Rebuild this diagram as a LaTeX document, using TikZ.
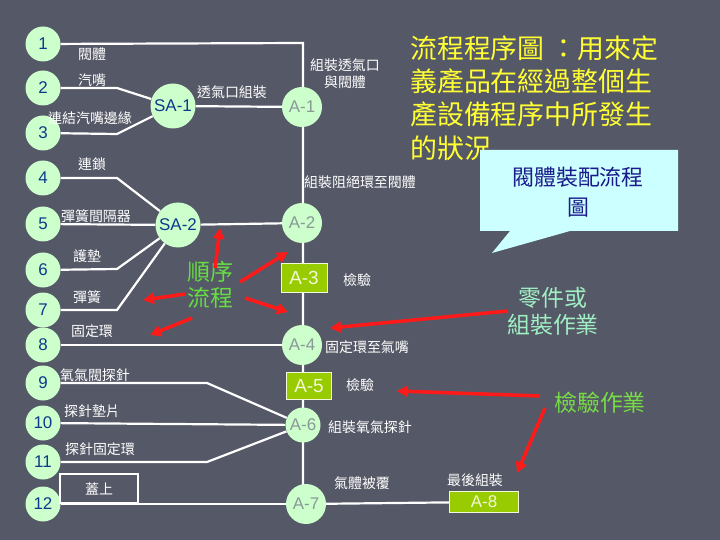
\documentclass[tikz,border=0pt]{standalone}
\usepackage{fontspec}
\setmainfont{Liberation Sans}
\newfontfamily\cjk{Noto Sans CJK TC}
\usetikzlibrary{arrows.meta,backgrounds}
\definecolor{bgc}{HTML}{555866}
\definecolor{cfill}{HTML}{CCFFCC}
\definecolor{numc}{HTML}{0C3A8A}
\definecolor{agray}{HTML}{8A9898}
\definecolor{boxg}{HTML}{99CC00}
\definecolor{boxt}{HTML}{F2F8D8}
\definecolor{ttl}{HTML}{FFFF33}
\definecolor{callc}{HTML}{CCFFFF}
\definecolor{callt}{HTML}{1A1A8A}
\definecolor{seqg}{HTML}{66DD44}
\definecolor{mint}{HTML}{A0F0C4}
\definecolor{insg}{HTML}{77DD44}
\definecolor{arrred}{HTML}{FF1A1A}
\tikzset{
  numc/.style={circle,fill=cfill,minimum size=35bp,inner sep=0pt,text=numc,font=\fontsize{17}{17}\selectfont},
  sac/.style={circle,fill=cfill,minimum size=45bp,inner sep=0pt,text=numc,font=\fontsize{17}{17}\selectfont},
  acirc/.style={circle,fill=cfill,minimum size=40bp,inner sep=0pt,text=agray,font=\fontsize{17}{17}\selectfont},
  abox/.style={rectangle,fill=boxg,draw=boxt,line width=0.6bp,minimum width=46bp,minimum height=29bp,inner sep=0pt,text=boxt,font=\fontsize{19}{19}\selectfont},
  lbl/.style={text=white,font=\cjk\fontsize{14}{17}\selectfont,inner sep=0pt},
  wline/.style={draw=white,line width=2.2bp},
  redarr/.style={draw=arrred,line width=3.5bp,-{Triangle[length=11bp,width=11bp]}},
  big/.style={font=\cjk\fontsize{23}{27}\selectfont,inner sep=0pt,align=center}
}
\begin{document}
\begin{tikzpicture}[x=1bp,y=-1bp]
\begin{pgfonlayer}{background}
\fill[bgc] (0,0) rectangle (720,540);
\end{pgfonlayer}
\useasboundingbox (0,0) rectangle (720,540);
% numbered circles
\node[numc] (n1) at (43,44) {1};
\node[numc] (n2) at (43,88) {2};
\node[numc] (n3) at (43,133) {3};
\node[numc] (n4) at (43,178) {4};
\node[numc] (n5) at (43,224) {5};
\node[numc] (n6) at (43,270) {6};
\node[numc] (n7) at (43,310) {7};
\node[numc] (n8) at (43,345) {8};
\node[numc] (n9) at (43,383) {9};
\node[numc] (n10) at (43,423) {10};
\node[numc] (n11) at (43,462) {11};
\node[numc] (n12) at (43,504) {12};
% sub-assemblies
\node[sac] (sa1) at (173,106) {SA-1};
\node[sac] (sa2) at (178,225) {SA-2};
% A column
\node[acirc] (a1) at (302,107) {A-1};
\node[acirc] (a2) at (302,223) {A-2};
\node[abox] (a3) at (304,278) {A-3};
\node[acirc] (a4) at (302,345) {A-4};
\node[abox,minimum width=45bp,minimum height=27bp] (a5) at (309,386) {A-5};
\node[acirc,minimum size=35bp] (a6) at (303,425) {A-6};
\node[acirc] (a7) at (306,504) {A-7};
\node[abox,minimum width=69bp,minimum height=21bp,font=\fontsize{17}{17}\selectfont] (a8) at (484,502) {A-8};
% bend coordinates
\coordinate (top) at (303,43);
\coordinate (vbot) at (303,490);
\coordinate (b2) at (117,88);
\coordinate (b3) at (117,134);
\coordinate (b4) at (117,178);
\coordinate (b6) at (117,269);
\coordinate (b7) at (117,310);
\coordinate (b9) at (207,383);
\coordinate (b11) at (207,462);
\begin{pgfonlayer}{background}
\draw[wline] (n1) -- (top) -- (vbot);
\draw[wline] (n2) -- (b2) -- (sa1);
\draw[wline] (n3) -- (b3) -- (sa1);
\draw[wline] (sa1) -- (a1);
\draw[wline] (n4) -- (b4) -- (sa2);
\draw[wline] (n5) -- (sa2);
\draw[wline] (n6) -- (b6) -- (sa2);
\draw[wline] (n7) -- (b7) -- (sa2);
\draw[wline] (sa2) -- (a2);
\draw[wline] (n8) -- (a4);
\draw[wline] (n9) -- (b9) -- (a6);
\draw[wline] (n10) -- (a6);
\draw[wline] (n11) -- (b11) -- (a6);
\draw[wline] (n12) -- (a7);
\draw[wline] (a7) -- (a8);
\end{pgfonlayer}
% labels
\node[lbl] (l1) at (92,54) {閥體};
\node[lbl] (l2) at (92,80) {汽嘴};
\node[lbl] (l3) at (90,118) {連結汽嘴邊緣};
\node[lbl] (lsa1) at (232,92) {透氣口組裝};
\node[lbl] (l4) at (92,164) {連鎖};
\node[lbl] (l5) at (96,216) {彈簧間隔器};
\node[lbl] (l6) at (87,256) {護墊};
\node[lbl] (l7) at (87,297) {彈簧};
\node[lbl] (l8) at (92,331) {固定環};
\node[lbl] (l9) at (95,375) {氧氣閥探針};
\node[lbl] (l10) at (92,411) {探針墊片};
\node[lbl] (l11) at (100,449) {探針固定環};
\node[lbl,draw=white,line width=1.2bp,minimum width=78bp,minimum height=29bp] (l12) at (99,488.5) {蓋上};
\node[lbl,align=center] (la1) at (345,74) {組裝透氣口\\與閥體};
\node[lbl] (la2) at (360,182) {組裝阻絕環至閥體};
\node[lbl] (la3) at (357,280) {檢驗};
\node[lbl] (la4) at (367,347) {固定環至氣嘴};
\node[lbl] (la5) at (360,385) {檢驗};
\node[lbl] (la6) at (370,427) {組裝氧氣探針};
\node[lbl] (la7) at (362,483) {氣體被覆};
\node[lbl] (la8) at (475,480) {最後組裝};
% title
\node[anchor=west,text=ttl,font=\cjk\fontsize{27}{33.5}\selectfont,align=left,inner sep=0pt] (title) at (410,98) {流程程序圖 ：用來定\\義產品在經過整個生\\產設備程序中所發生\\的狀況};
% callout
\fill[callc] (480,150) -- (678,150) -- (678,231) -- (570,231) -- (492,253) -- (510,231) -- (480,231) -- cycle;
\node[big,text=callt,font=\cjk\fontsize{22}{30}\selectfont] (call) at (578,192) {閥體裝配流程\\圖};
% green notes
\node[big,text=seqg,font=\cjk\fontsize{23}{26}\selectfont] (seq) at (210,285) {順序\\流程};
\node[big,text=mint] (part) at (553,311) {零件或\\組裝作業};
\node[big,text=insg] (insp) at (600,403) {檢驗作業};
% red arrows
\coordinate (r1s) at (508,311); \coordinate (r1e) at (330,328);
\coordinate (r2s) at (540,396); \coordinate (r2e) at (397,391);
\coordinate (r3s) at (545,408); \coordinate (r3e) at (517,473);
\coordinate (s1s) at (215,268); \coordinate (s1e) at (220,228);
\coordinate (s2s) at (240,282); \coordinate (s2e) at (288,252);
\coordinate (s3s) at (245,298); \coordinate (s3e) at (288,312);
\coordinate (s4s) at (185,294); \coordinate (s4e) at (143,300);
\coordinate (s5s) at (192,318); \coordinate (s5e) at (150,335);
\draw[redarr] (r1s) -- (r1e);
\draw[redarr] (r2s) -- (r2e);
\draw[redarr] (r3s) -- (r3e);
\draw[redarr] (s1s) -- (s1e);
\draw[redarr] (s2s) -- (s2e);
\draw[redarr] (s3s) -- (s3e);
\draw[redarr] (s4s) -- (s4e);
\draw[redarr] (s5s) -- (s5e);
\end{tikzpicture}
\end{document}
